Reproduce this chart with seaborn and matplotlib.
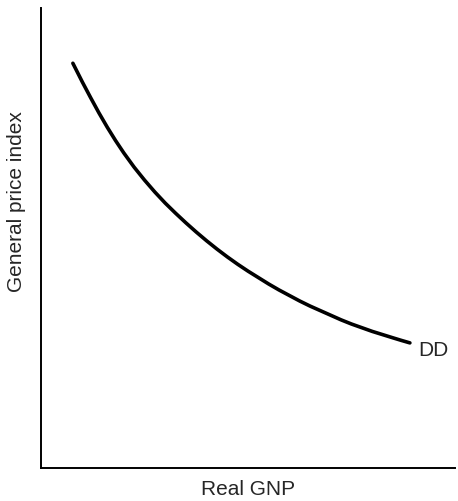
import matplotlib
matplotlib.use("Agg")
import matplotlib.pyplot as plt
import seaborn as sns
import pandas as pd

sns.set_style("white")
plt.rcParams['font.family'] = ['Liberation Sans', 'DejaVu Sans']

real_gnp = [7.7, 10.0, 12.0, 14.0, 16.0, 18.0, 20.0, 22.5, 25.0, 27.5, 30.0, 32.5, 35.0, 37.5, 40.0, 42.5, 45.0, 47.5, 50.0, 52.5, 55.0, 57.5, 60.0, 62.5, 65.0, 67.5, 70.0, 72.5, 75.0, 77.5, 80.0, 82.5, 85.0, 87.0, 89.1]
price_index = [88.0, 83.9, 80.5, 77.2, 74.1, 71.2, 68.5, 65.4, 62.6, 60.0, 57.6, 55.4, 53.3, 51.3, 49.4, 47.6, 45.9, 44.3, 42.8, 41.4, 40.0, 38.7, 37.5, 36.3, 35.2, 34.2, 33.2, 32.2, 31.3, 30.5, 29.7, 29.0, 28.3, 27.75, 27.2]

df = pd.DataFrame({"x": real_gnp, "y": price_index})

fig = plt.figure(figsize=(4.58, 5.01), dpi=100)
ax = fig.add_axes([0.0895, 0.0659, 0.904, 0.918])
sns.lineplot(data=df, x="x", y="y", ax=ax, color="black", linewidth=2.6, sort=True)
ax.set_xlim(0, 100)
ax.set_ylim(0, 100)
ax.set_xticks([])
ax.set_yticks([])
for s in ["top", "right"]:
    ax.spines[s].set_visible(False)
for s in ["left", "bottom"]:
    ax.spines[s].set_color("black")
    ax.spines[s].set_linewidth(1.4)
ax.set_xlabel("Real GNP", fontsize=15)
ax.set_ylabel("General price index", fontsize=15)
ax.xaxis.set_label_coords(0.5, -0.026)
ax.yaxis.set_label_coords(-0.036, 0.58)
ax.text(91.2, 25.5, "DD", fontsize=15, ha="left", va="center")
fig.savefig("out.png", dpi=100)
